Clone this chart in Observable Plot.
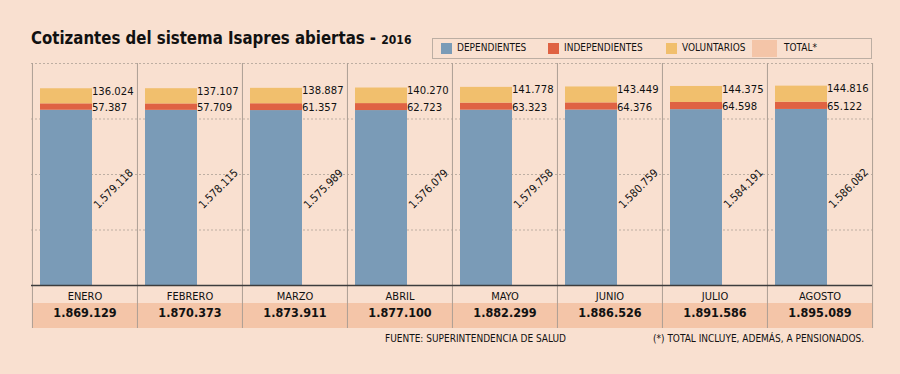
<!DOCTYPE html>
<html>
<head>
<meta charset="utf-8">
<script src="https://cdn.jsdelivr.net/npm/d3@7"></script>
<script src="https://cdn.jsdelivr.net/npm/@observablehq/plot@0.6"></script>
<style>
  html, body { margin: 0; padding: 0; background: #F9E0D0; }
  #wrap { position: relative; width: 900px; height: 374px; background: #F9E0D0; overflow: hidden;
          font-family: "DejaVu Sans Condensed", "DejaVu Sans", sans-serif; color: #111; }
  #chart { position: absolute; left: 0; top: 0; }
  .title { position: absolute; left: 31px; top: 27px; font-weight: bold; font-size: 18px; white-space: nowrap;
           transform: scaleX(0.925); transform-origin: 0 0; }
  .title .yr { font-size: 13px; }
  .legend { position: absolute; left: 432px; top: 38px; width: 438px; height: 19px; border: 1px solid #bcaea3; }
  .legend .sw { position: absolute; }
  .legend .lb { position: absolute; top: 3px; font-size: 10px; white-space: nowrap; }
  .foot { position: absolute; top: 333px; font-size: 10px; white-space: nowrap; }
</style>
</head>
<body>
<div id="wrap">
  <div id="chart"></div>
  <div class="title">Cotizantes del sistema Isapres abiertas - <span class="yr">2016</span></div>
  <div class="legend" id="legend"></div>
  <div class="foot" style="left:385px">FUENTE: SUPERINTENDENCIA DE SALUD</div>
  <div class="foot" style="left:653px">(*) TOTAL INCLUYE, ADEMÁS, A PENSIONADOS.</div>
</div>
<script>
// ---- data ----
const months = ["ENERO", "FEBRERO", "MARZO", "ABRIL", "MAYO", "JUNIO", "JULIO", "AGOSTO"];
const dependientes = [1579118, 1578115, 1575989, 1576079, 1579758, 1580759, 1584191, 1586082];
const independientes = [57387, 57709, 61357, 62723, 63323, 64376, 64598, 65122];
const voluntarios = [136024, 137107, 138887, 140270, 141778, 143449, 144375, 144816];
const totales = [1869129, 1870373, 1873911, 1877100, 1882299, 1886526, 1891586, 1895089];
const seriesNames = ["DEPENDIENTES", "INDEPENDIENTES", "VOLUNTARIOS"];
const seriesColors = ["#7A9BB7", "#DF6243", "#F1BF6D"];
const totalLabel = "TOTAL*";
const totalColor = "#F4C5A8";
const gridTicks = [500000, 1000000, 1500000];
const yMax = 2000000;

// ---- build ----
const fmt = d3.formatLocale({decimal: ",", thousands: ".", grouping: [3], currency: ["$", ""]}).format(",d");
const rows = months.flatMap((m, i) => [
  {month: m, series: seriesNames[0], value: dependientes[i]},
  {month: m, series: seriesNames[1], value: independientes[i]},
  {month: m, series: seriesNames[2], value: voluntarios[i]}
]);
const recs = months.map((m, i) => ({
  month: m, dep: dependientes[i], ind: independientes[i], vol: voluntarios[i], tot: totales[i]
}));

const W = 900, H = 374, mL = 31, mR = 28, mT = 63, mB = 89;
const bw = (W - mL - mR) / months.length;
const gridColor = "#bdaea2";
const lineColor = "#ad9f94";
const font = "'DejaVu Sans Condensed', 'DejaVu Sans', sans-serif";

const chart = Plot.plot({
  width: W, height: H,
  marginLeft: mL, marginRight: mR, marginTop: mT, marginBottom: mB,
  style: {background: "transparent", fontFamily: font, color: "#111", overflow: "visible"},
  x: {type: "band", domain: months, padding: 0, axis: null},
  y: {domain: [0, yMax], axis: null},
  color: {domain: seriesNames, range: seriesColors},
  marks: [
    // totals row background
    Plot.barY(months, {x: d => d, y1: 0, y2: 0, insetTop: 18, insetBottom: -43, fill: totalColor}),
    // grid
    Plot.ruleY(gridTicks, {stroke: gridColor, strokeDasharray: "2,2"}),
    Plot.ruleY([yMax], {stroke: gridColor, strokeDasharray: "2,2"}),
    // stacked bars
    Plot.barY(rows, {x: "month", y: "value", fill: "series", order: seriesNames, insetLeft: 8, insetRight: 45}),
    // panel separators (extend down through the table rows)
    Plot.ruleX(months, {x: d => d, y1: yMax, y2: 0, dx: -bw / 2, insetBottom: -43, stroke: lineColor}),
    Plot.ruleX(months.slice(-1), {x: d => d, y1: yMax, y2: 0, dx: bw / 2, insetBottom: -43, stroke: lineColor}),
    // baseline
    Plot.ruleY([0], {stroke: "#3d3d3d", strokeWidth: 1.5}),
    // value labels
    Plot.text(recs, {x: "month", y: d => d.dep + d.ind + d.vol, text: d => fmt(d.vol), textAnchor: "start",
      dx: 60 - bw / 2 - 0.5, dy: 2.5, fontSize: 11.2, fill: "#111"}),
    Plot.text(recs, {x: "month", y: d => d.dep + d.ind / 2, text: d => fmt(d.ind), textAnchor: "start",
      dx: 60 - bw / 2 - 0.5, dy: 0.5, fontSize: 11.2, fill: "#111"}),
    Plot.text(recs, {x: "month", y: d => d.dep / 2, text: d => fmt(d.dep), textAnchor: "middle", rotate: -45,
      dx: 81 - bw / 2, dy: -9, fontSize: 11, fill: "#111"}),
    // table
    Plot.text(months, {x: d => d, frameAnchor: "bottom", text: d => d, dy: 14, fontSize: 11, fill: "#111"}),
    Plot.text(recs, {x: "month", frameAnchor: "bottom", text: d => fmt(d.tot), dy: 31.5, fontSize: 12.5, fontWeight: "bold", fill: "#111"})
  ]
});
document.getElementById("chart").append(chart);

// legend
const legend = document.getElementById("legend");
const items = [
  {name: seriesNames[0], color: seriesColors[0], sx: 8, tx: 24},
  {name: seriesNames[1], color: seriesColors[1], sx: 115, tx: 131},
  {name: seriesNames[2], color: seriesColors[2], sx: 233, tx: 249},
  {name: totalLabel, color: totalColor, sx: 319, tx: 351, big: true}
];
for (const it of items) {
  const sw = document.createElement("div");
  sw.className = "sw";
  sw.style.background = it.color;
  sw.style.left = it.sx + "px";
  if (it.big) { sw.style.top = "1px"; sw.style.width = "25px"; sw.style.height = "17px"; }
  else { sw.style.top = "4px"; sw.style.width = "11px"; sw.style.height = "11px"; }
  legend.append(sw);
  const lb = document.createElement("div");
  lb.className = "lb";
  lb.style.left = it.tx + "px";
  lb.textContent = it.name;
  legend.append(lb);
}
</script>
</body>
</html>
